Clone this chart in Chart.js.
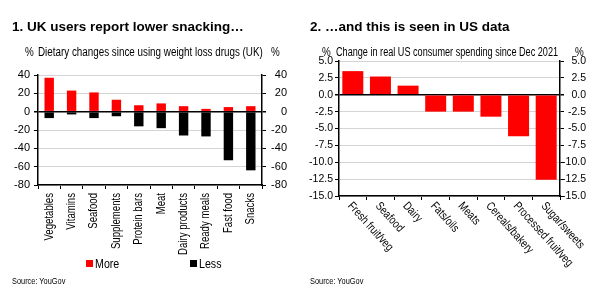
<!DOCTYPE html>
<html>
  <head>
    <meta charset="utf-8" />
    <title>UK and US snacking</title>
    <style>
      body { margin: 0; background: #fff; }
      #wrap {
        position: relative; width: 600px; height: 291px; overflow: hidden;
        font-family: "Liberation Sans", Arial, sans-serif;
        color: #000;
      }
      canvas { position: absolute; top: 0; }
      .title { position: absolute; top: 19px; font: bold 13.5px "Liberation Sans", Arial, sans-serif; white-space: nowrap; }
      .narrow { transform: scaleX(0.82); transform-origin: 0 50%; }
      .sub { position: absolute; top: 45px; font-size: 12px; white-space: nowrap; }
      .src { position: absolute; top: 276px; font-size: 9px; white-space: nowrap; }
      .leg { position: absolute; top: 256px; font-size: 13px; white-space: nowrap; }
      .leg span.box { display: inline-block; width: 7px; height: 7px; margin-right: 2px; vertical-align: 1px; }
    </style>
  </head>
  <body>
    <div id="wrap">
      <canvas id="uk" width="300" height="291" style="left:0"></canvas>
      <canvas id="us" width="300" height="291" style="left:300px"></canvas>

      <div class="title" style="left:12px">1. UK users report lower snacking…</div>
      <div class="sub narrow" style="left:25px">%</div>
      <div class="sub narrow" style="left:38px">Dietary changes since using weight loss drugs (UK)</div>
      <div class="sub narrow" style="left:271px">%</div>
      <div id="ukLegend"></div>
      <div class="src narrow" style="left:12px">Source: YouGov</div>

      <div class="title" style="left:310px">2. …and this is seen in US data</div>
      <div class="sub narrow" style="left:322px">%</div>
      <div class="sub narrow" style="left:336px; transform: scaleX(0.76)">Change in real US consumer spending since Dec 2021</div>
      <div class="sub narrow" style="left:575px">%</div>
      <div class="src narrow" style="left:310px">Source: YouGov</div>
    </div>

    <script src="https://cdn.jsdelivr.net/npm/chart.js@4.4.1/dist/chart.umd.min.js"></script>
    <script>
      // chart 1: UK survey (% of users)
      const ukFoods = ["Vegetables", "Vitamins", "Seafood", "Supplements", "Protein bars", "Meat", "Dairy products", "Ready meals", "Fast food", "Snacks"];
      const ukMore = [37, 23, 21, 13, 7, 9, 6, 3, 5, 6];
      const ukLess = [-7, -3, -7, -5, -16, -18, -26, -27, -53, -64];
      const ukSeries = ["More", "Less"];
      const ukColors = ["#ff0000", "#000000"];

      // chart 2: US real spending change since Dec 2021 (%)
      const usFoods = ["Fresh fruit/veg", "Seafood", "Dairy", "Fats/oils", "Meats", "Cereals/bakery", "Processed fruit/veg", "Sugar/sweets"];
      const usChange = [3.5, 2.7, 1.35, -2.5, -2.5, -3.25, -6.15, -12.6];

      Chart.defaults.font.family = '"Liberation Sans", Arial, sans-serif';
      Chart.defaults.font.size = 12;
      Chart.defaults.color = "#000";
      Chart.defaults.animation = false;

      const gridColor = (c) => (c.tick && c.tick.value === 0 ? "#000" : "#d4d4d4");

      function yAxis(pos, min, max, step, width, fmt, grid, fontSize, pad) {
        return {
          position: pos,
          min: min,
          max: max,
          border: { color: "#000", width: 1.5 },
          grid: {
            drawOnChartArea: grid,
            color: gridColor,
            lineWidth: (c) => (c.tick && c.tick.value === 0 ? 1.5 : 1),
            tickColor: "#000",
            tickLength: 4,
          },
          ticks: {
            stepSize: step,
            padding: pad,
            autoSkip: false,
            crossAlign: pos === "right" ? "far" : "near",
            font: { size: fontSize },
            callback: fmt,
          },
          afterFit: (s) => { s.width = width; },
        };
      }

      function xAxis(height) {
        return {
          border: { color: "#000", width: 1.5 },
          grid: { drawOnChartArea: false, tickColor: "#000", tickLength: 4 },
          ticks: { display: false },
          afterFit: (s) => { s.height = height; },
        };
      }

      // category labels drawn in a condensed face, at an angle
      function catLabels(angle, align, dx, dy) {
        return {
          id: "catLabels",
          afterDraw(chart) {
            const sc = chart.scales.x;
            const ctx = chart.ctx;
            ctx.save();
            ctx.font = '12px "Liberation Sans", Arial, sans-serif';
            ctx.fillStyle = "#000";
            ctx.textAlign = align;
            ctx.textBaseline = "middle";
            chart.data.labels.forEach((lab, i) => {
              ctx.save();
              ctx.translate(sc.getPixelForTick(i) + dx, sc.top + dy);
              ctx.rotate(angle);
              ctx.scale(0.8, 1);
              ctx.fillText(lab, 0, 0);
              ctx.restore();
            });
            ctx.restore();
          },
        };
      }

      // legend for chart 1
      const leg = document.getElementById("ukLegend");
      const legX = [86, 190];
      ukSeries.forEach((name, i) => {
        const d = document.createElement("div");
        d.className = "leg";
        d.style.left = legX[i] + "px";
        d.innerHTML = '<span class="box" style="background:' + ukColors[i] + '"></span><span class="narrow" style="display:inline-block">' + name + "</span>";
        leg.appendChild(d);
      });

      new Chart(document.getElementById("uk"), {
        type: "bar",
        data: {
          labels: ukFoods,
          datasets: [
            { label: ukSeries[0], data: ukMore, backgroundColor: ukColors[0], barPercentage: 0.42, categoryPercentage: 1 },
            { label: ukSeries[1], data: ukLess, backgroundColor: ukColors[1], barPercentage: 0.42, categoryPercentage: 1 },
          ],
        },
        options: {
          responsive: false,
          layout: { padding: { top: 75, left: 12, right: 13, bottom: 36 } },
          plugins: { legend: { display: false }, tooltip: { enabled: false } },
          scales: {
            x: Object.assign(xAxis(70), { stacked: true }),
            y: Object.assign(yAxis("left", -80, 40, 20, 26, (v) => v, true, 11, 4), { stacked: true }),
            y2: yAxis("right", -80, 40, 20, 25, (v) => v, false, 11, 2),
          },
        },
        plugins: [catLabels(-Math.PI / 2, "right", 0, 8)],
      });

      new Chart(document.getElementById("us"), {
        type: "bar",
        data: {
          labels: usFoods,
          datasets: [
            { label: "Change", data: usChange, backgroundColor: "#ff0000", barPercentage: 0.76, categoryPercentage: 1 },
          ],
        },
        options: {
          responsive: false,
          layout: { padding: { top: 61, left: 6, right: 14, bottom: 35 } },
          plugins: { legend: { display: false }, tooltip: { enabled: false } },
          scales: {
            x: xAxis(60),
            y: yAxis("left", -15, 5, 2.5, 33, (v) => v.toFixed(1), true, 10.5, 2),
            y2: yAxis("right", -15, 5, 2.5, 26, (v) => v.toFixed(1), false, 10.5, 2),
          },
        },
        plugins: [catLabels(Math.PI / 4 + 0.05, "left", -3, 8)],
      });
    </script>
  </body>
</html>
